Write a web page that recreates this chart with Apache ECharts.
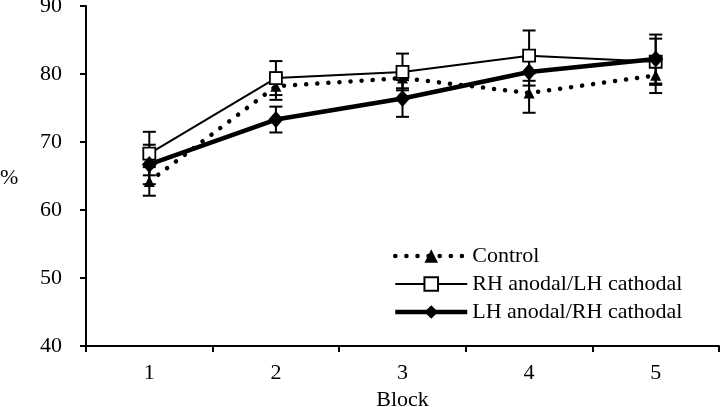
<!DOCTYPE html>
<html><head><meta charset="utf-8">
<script src="https://cdn.jsdelivr.net/npm/echarts@6/dist/echarts.min.js"></script>
<style>html,body{margin:0;padding:0;background:#fff}#c{width:720px;height:407px}</style>
</head><body><div id="c"></div>
<script>
const categories = ['1','2','3','4','5'];
const yTicks = [40,50,60,70,80,90];
const controlVals = [64.2, 78.2, 79.4, 77.2, 79.8];
const rhVals = [68.3, 79.4, 80.3, 82.7, 81.8];
const lhVals = [66.7, 73.3, 76.4, 80.3, 82.2];
const controlErr = [2.1, 2.0, 1.5, 2.9, 2.6];
const rhErr = [3.2, 2.5, 2.7, 3.7, 3.4];
const lhErr = [2.9, 1.9, 2.7, 2.0, 3.6];
const names = ['Control', 'RH anodal/LH cathodal', 'LH anodal/RH cathodal'];

const FONT = 'Liberation Serif';
function errData(vals, errs){ return vals.map((v,i)=>[i, v, errs[i]]); }
function errRender(params, api){
  const x = api.value(0), y = api.value(1), e = api.value(2);
  const t = api.coord([x, y+e]), b = api.coord([x, y-e]);
  const w = 6.5, st = {stroke:'#000', lineWidth:2};
  return {type:'group', children:[
    {type:'line', shape:{x1:t[0],y1:t[1],x2:b[0],y2:b[1]}, style:st},
    {type:'line', shape:{x1:t[0]-w,y1:t[1],x2:t[0]+w,y2:t[1]}, style:st},
    {type:'line', shape:{x1:b[0]-w,y1:b[1],x2:b[0]+w,y2:b[1]}, style:st}
  ]};
}
function errSeries(vals, errs){
  return {type:'custom', renderItem:errRender, data:errData(vals, errs), encode:{x:0,y:1}, z:1, silent:true};
}
const chart = echarts.init(document.getElementById('c'), null, {renderer:'canvas'});
chart.setOption({
  animation:false,
  backgroundColor:'#fff',
  textStyle:{fontFamily:FONT, color:'#000'},
  grid:{left:86, right:1, top:6, bottom:61, containLabel:false, outerBoundsMode:'none'},
  legend:{
    data:names, orient:'vertical', left:388, top:240, itemWidth:72, itemHeight:17, itemGap:6,
    lineStyle:{width:'inherit'},
    textStyle:{fontFamily:FONT, fontSize:22, color:'#000'}
  },
  xAxis:{
    type:'category', data:categories, boundaryGap:true,
    name:'Block', nameLocation:'middle', nameGap:38,
    nameTextStyle:{fontFamily:FONT, fontSize:22, color:'#000'},
    axisLine:{lineStyle:{color:'#000', width:2}},
    axisTick:{show:true, length:6, lineStyle:{color:'#000', width:2}},
    axisLabel:{fontFamily:FONT, fontSize:22, color:'#000', margin:16}
  },
  yAxis:{
    type:'value', min:yTicks[0], max:yTicks[yTicks.length-1], interval:10,
    splitLine:{show:false},
    axisLine:{show:true, lineStyle:{color:'#000', width:2}},
    axisTick:{show:true, length:6, lineStyle:{color:'#000', width:2}},
    axisLabel:{fontFamily:FONT, fontSize:22, color:'#000', margin:24}
  },
  graphic:[{type:'text', left:0, top:167, style:{text:'%', font:'22px "Liberation Serif"', fill:'#000'}}],
  series:[
    errSeries(controlVals, controlErr),
    errSeries(rhVals, rhErr),
    errSeries(lhVals, lhErr),
    {name:names[0], type:'line', data:controlVals, z:3,
     symbol:'triangle', symbolSize:11, itemStyle:{color:'#000'},
     lineStyle:{color:'#000', width:4.5, type:[0.1, 11], cap:'round'}},
    {name:names[1], type:'line', data:rhVals, z:4,
     symbol:'rect', symbolSize:12, itemStyle:{color:'#fff', borderColor:'#000', borderWidth:1.8},
     lineStyle:{color:'#000', width:2}},
    {name:names[2], type:'line', data:lhVals, z:5,
     symbol:'diamond', symbolSize:[15,17], itemStyle:{color:'#000'},
     lineStyle:{color:'#000', width:4.5}}
  ]
});
</script></body></html>
